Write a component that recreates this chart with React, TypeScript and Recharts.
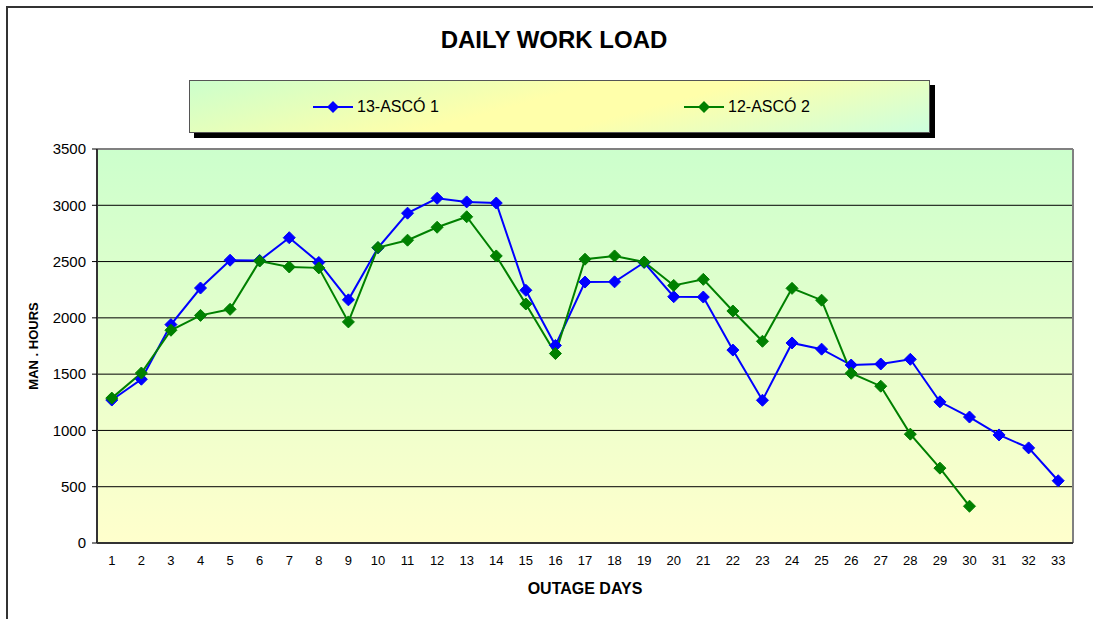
import React from 'react'
import {
  CartesianGrid,
  Legend,
  Line,
  LineChart,
  ReferenceLine,
  XAxis,
  YAxis,
} from 'recharts'

const days = [
  1, 2, 3, 4, 5, 6, 7, 8, 9, 10, 11, 12, 13, 14, 15, 16, 17, 18, 19, 20, 21, 22, 23, 24, 25, 26, 27,
  28, 29, 30, 31, 32, 33,
]
const asco1 = [
  1270, 1455, 1940, 2265, 2512, 2510, 2712, 2492, 2160, 2622, 2930, 3062, 3030, 3020, 2245, 1755,
  2318, 2320, 2492, 2188, 2185, 1714, 1268, 1777, 1722, 1581, 1590, 1632, 1254, 1119, 960, 845, 553,
]
const asco2 = [
  1287, 1510, 1890, 2022, 2076, 2505, 2452, 2444, 1964, 2625, 2690, 2805, 2898, 2550, 2123, 1683,
  2521, 2550, 2496, 2288, 2342, 2061, 1792, 2262, 2157, 1508, 1393, 967, 665, 327,
]
const yTicks = [0, 500, 1000, 1500, 2000, 2500, 3000, 3500]
const edgeTicks = [0, ...days].map((d) => d + 0.5)

const seriesNames = ['13-ASCÓ 1', '12-ASCÓ 2']
const seriesColors = ['#0000FF', '#008000']

const data = days.map((day, i) => ({
  day,
  asco1: asco1[i],
  asco2: i < asco2.length ? asco2[i] : null,
}))

const FONT = '"Liberation Sans", Arial, sans-serif'

function diamond(props: any, color: string, size: number) {
  const { cx, cy, index, value } = props
  if (cx == null || cy == null || value == null) return <g key={index} />
  const pts = `${cx},${cy - size} ${cx + size},${cy} ${cx},${cy + size} ${cx - size},${cy}`
  return <polygon key={index} points={pts} fill={color} stroke={color} strokeWidth={1} />
}

function LegendBox(props: any) {
  const items = [...(props.payload || [])].sort(
    (a: any, b: any) => seriesNames.indexOf(a.value) - seriesNames.indexOf(b.value)
  )
  const lefts = [123, 494]
  return (
    <div
      style={{
        position: 'relative',
        width: 741,
        height: 53,
        boxSizing: 'border-box',
        border: '1px solid #555',
        background: 'linear-gradient(165deg, #ccffcc 0%, #ffffaa 45%, #ffffaa 60%, #ccffdd 100%)',
        boxShadow: '5px 5px 0 #000',
        fontFamily: FONT,
      }}
    >
      {items.map((item: any, i: number) => (
        <div
          key={item.value}
          style={{
            position: 'absolute',
            left: lefts[i],
            top: 0,
            height: 51,
            display: 'flex',
            alignItems: 'center',
          }}
        >
          <svg width={40} height={14}>
            <line x1={0} y1={7} x2={40} y2={7} stroke={item.color} strokeWidth={2} />
            <polygon points="20,1 26,7 20,13 14,7" fill={item.color} />
          </svg>
          <span style={{ fontSize: 16, color: '#000', marginLeft: 4 }}>{item.value}</span>
        </div>
      ))}
    </div>
  )
}

export default function App() {
  return (
    <div
      style={{
        position: 'absolute',
        left: 0,
        top: 0,
        width: 1093,
        height: 619,
        background: '#fff',
        overflow: 'hidden',
      }}
    >
      <div
        style={{
          position: 'absolute',
          left: 6,
          top: 6,
          width: 1200,
          height: 700,
          borderLeft: '2px solid #333',
          borderTop: '2px solid #333',
        }}
      />
      <div
        style={{
          position: 'absolute',
          left: 0,
          top: 26,
          width: 1108,
          textAlign: 'center',
          fontFamily: FONT,
          fontWeight: 'bold',
          fontSize: 24,
          color: '#000',
        }}
      >
        DAILY WORK LOAD
      </div>
      <div style={{ position: 'absolute', left: 0, top: 0 }}>
        <LineChart
          width={1093}
          height={619}
          data={data}
          margin={{ top: 149, right: 20, bottom: 0, left: 0 }}
          style={{ fontFamily: FONT }}
        >
          <defs>
            <linearGradient id="plotBg" x1="0" y1="0" x2="0" y2="1">
              <stop offset="0%" stopColor="#ccffcc" />
              <stop offset="100%" stopColor="#ffffcc" />
            </linearGradient>
          </defs>
          <CartesianGrid
            xAxisId="main"
            vertical={false}
            stroke="#000"
            strokeOpacity={1}
            fill="url(#plotBg)"
            fillOpacity={1}
          />
          <XAxis
            xAxisId="edge"
            type="number"
            domain={[0.5, 33.5]}
            ticks={edgeTicks}
            allowDataOverflow
            tick={false}
            tickSize={5}
            tickLine={{ stroke: '#000' }}
            axisLine={false}
            height={0}
          />
          <XAxis
            xAxisId="main"
            dataKey="day"
            type="number"
            domain={[0.5, 33.5]}
            ticks={days}
            interval={0}
            allowDataOverflow
            tickLine={false}
            tickSize={5}
            tickMargin={8}
            tick={{ fontSize: 13, fill: '#000' }}
            axisLine={{ stroke: '#333', strokeWidth: 2 }}
            height={76}
            label={{
              value: 'OUTAGE DAYS',
              position: 'insideTop',
              offset: 40,
              style: { fontSize: 16, fontWeight: 'bold', fill: '#000' },
            }}
          />
          <YAxis
            domain={[0, 3500]}
            ticks={yTicks}
            interval={0}
            width={97}
            tickSize={5}
            tickMargin={6}
            tick={{ fontSize: 15, fill: '#000' }}
            tickLine={{ stroke: '#000' }}
            axisLine={{ stroke: '#333', strokeWidth: 2 }}
            label={{
              value: 'MAN . HOURS',
              angle: -90,
              position: 'center',
              dx: -15,
              style: { fontSize: 13, fontWeight: 'bold', fill: '#000' },
            }}
          />
          <ReferenceLine xAxisId="main" y={3500} stroke="#808080" strokeWidth={2} />
          <ReferenceLine xAxisId="main" x={33.5} stroke="#808080" strokeWidth={2} />
          <Legend
            verticalAlign="middle"
            align="center"
            layout="horizontal"
            wrapperStyle={{ top: 80, left: 189, width: 741, height: 53 }}
            content={<LegendBox />}
          />
          <Line
            xAxisId="main"
            dataKey="asco1"
            name={seriesNames[0]}
            stroke={seriesColors[0]}
            strokeWidth={2}
            dot={(p: any) => diamond(p, seriesColors[0], 6)}
            activeDot={false}
            isAnimationActive={false}
          />
          <Line
            xAxisId="main"
            dataKey="asco2"
            name={seriesNames[1]}
            stroke={seriesColors[1]}
            strokeWidth={2}
            dot={(p: any) => diamond(p, seriesColors[1], 6)}
            activeDot={false}
            isAnimationActive={false}
          />
        </LineChart>
      </div>
    </div>
  )
}
